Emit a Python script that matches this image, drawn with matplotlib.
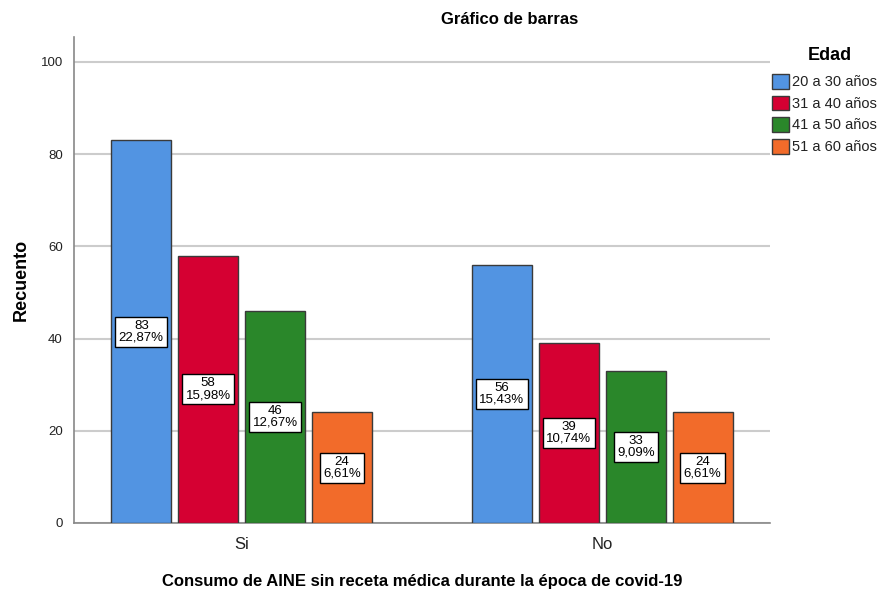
import numpy as np
import matplotlib.pyplot as plt
from matplotlib.patches import Patch

plt.rcParams['font.family'] = ['Liberation Sans', 'DejaVu Sans']

grupos = ['Si', 'No']
edades = ['20 a 30 años', '31 a 40 años', '41 a 50 años', '51 a 60 años']
conteos = {
    '20 a 30 años': [83, 56],
    '31 a 40 años': [58, 39],
    '41 a 50 años': [46, 33],
    '51 a 60 años': [24, 24],
}
colores = ['#5294E2', '#D50032', '#2A872A', '#F26B2A']

total = sum(sum(v) for v in conteos.values())

fig = plt.figure(figsize=(8.85, 5.92), dpi=100)
ax = fig.add_axes([0.0836, 0.1166, 0.7864, 0.8209])

x = np.arange(len(grupos))
paso = 0.1856
ancho = 0.166
for i, edad in enumerate(edades):
    pos = x + (i - 1.5) * paso
    vals = conteos[edad]
    ax.bar(pos, vals, width=ancho, color=colores[i], edgecolor='#3a3a3a',
           linewidth=1.0, zorder=3)
    for p, v in zip(pos, vals):
        pct = ('%.2f' % (100.0 * v / total)).replace('.', ',')
        ax.text(p, v / 2.0, '%d\n%s%%' % (v, pct), ha='center', va='center',
                fontsize=9.5, linespacing=0.95, zorder=4,
                bbox=dict(boxstyle='square,pad=0.25', facecolor='white',
                          edgecolor='black', linewidth=1.0))

ax.set_xlim(-0.465, 1.465)
ax.set_ylim(0, 105.4)
ax.set_yticks([0, 20, 40, 60, 80, 100])
ax.yaxis.grid(True, color='#cccccc', linewidth=1.5, zorder=0)
ax.set_xticks(x)
ax.set_xticklabels(grupos, fontsize=12, color='#222222')
ax.tick_params(axis='y', labelsize=9.5, colors='#222222', length=0, pad=8)
ax.tick_params(axis='x', length=0, pad=10)
for s in ['top', 'right']:
    ax.spines[s].set_visible(False)
ax.spines['left'].set_color('#888888')
ax.spines['bottom'].set_color('#888888')
ax.spines['left'].set_linewidth(1.2)
ax.spines['bottom'].set_linewidth(1.2)

ax.set_ylabel('Recuento', fontsize=13, fontweight='bold', labelpad=8)
ax.set_xlabel('Consumo de AINE sin receta médica durante la época de covid-19',
              fontsize=12, fontweight='bold', labelpad=16)

fig.text(510 / 885, 1 - 20 / 592, 'Gráfico de barras', ha='center', va='center',
         fontsize=12, fontweight='bold')

fig.text(830 / 885, 1 - 55 / 592, 'Edad', ha='center', va='center',
         fontsize=13, fontweight='bold')
handles = [Patch(facecolor=c, edgecolor='#3a3a3a', label=e) for c, e in zip(colores, edades)]
leg = fig.legend(handles=handles, loc='upper left',
                 bbox_to_anchor=(772 / 885, 1 - 74 / 592), frameon=False, fontsize=10.5,
                 handlelength=1.15, handleheight=1.2, handletextpad=0.2,
                 labelspacing=0.42, borderaxespad=0, borderpad=0)
for t in leg.get_texts():
    t.set_color('#222222')

fig.savefig('out.png', dpi=100)
